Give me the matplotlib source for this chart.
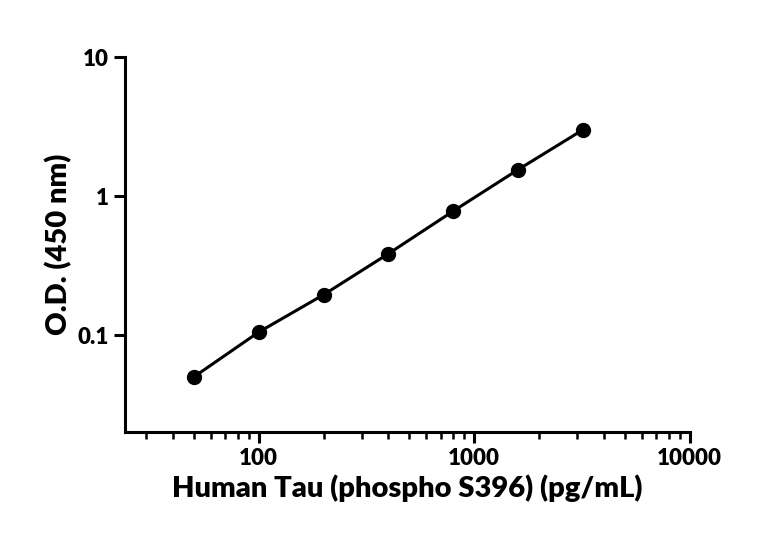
import matplotlib
matplotlib.use("Agg")
import matplotlib.pyplot as plt
from matplotlib.ticker import LogLocator, FixedLocator, NullLocator

conc = [50, 100, 200, 400, 800, 1600, 3200]
od = [0.05, 0.105, 0.195, 0.385, 0.78, 1.55, 3.0]
x_ticks = [100, 1000, 10000]
x_labels = ["100", "1000", "10000"]
y_ticks = [0.1, 1, 10]
y_labels = ["0.1", "1", "10"]

plt.rcParams['font.family'] = ['Lato', 'DejaVu Sans']
fig = plt.figure(figsize=(7.68, 5.43), dpi=100)
ax = fig.add_axes([0.163, 0.204, 0.735, 0.691])
ax.plot(conc, od, color='black', lw=2.2, marker='o', markersize=10)
ax.set_xscale('log')
ax.set_yscale('log')
ax.set_xlim(24, 10000)
ax.set_ylim(0.02, 10)
ax.xaxis.set_major_locator(FixedLocator(x_ticks))
ax.set_xticklabels(x_labels)
ax.xaxis.set_minor_locator(LogLocator(base=10, subs=range(2, 10)))
ax.yaxis.set_major_locator(FixedLocator(y_ticks))
ax.set_yticklabels(y_labels)
ax.yaxis.set_minor_locator(NullLocator())
for s in ['top', 'right']:
    ax.spines[s].set_visible(False)
for s in ['left', 'bottom']:
    ax.spines[s].set_linewidth(2.2)
ax.tick_params(which='major', width=2.2, length=8, labelsize=16)
ax.tick_params(which='minor', width=1.8, length=5)
for lab in ax.get_xticklabels() + ax.get_yticklabels():
    lab.set_fontweight('heavy')
ax.set_xlabel('Human Tau (phospho S396) (pg/mL)', fontsize=21, fontweight='heavy')
ax.set_ylabel('O.D. (450 nm)', fontsize=21, fontweight='heavy')
fig.savefig('out.png', dpi=100)
